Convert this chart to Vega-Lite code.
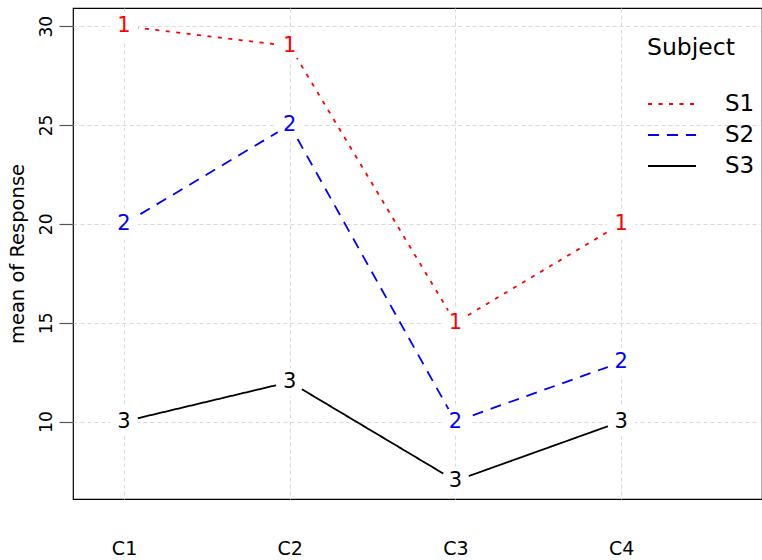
{
  "$schema": "https://vega.github.io/schema/vega-lite/v6.json",
  "autosize": "none",
  "width": 689,
  "height": 491,
  "padding": {"left": 73, "top": 8, "right": 0, "bottom": 61},
  "background": "white",
  "config": {
    "font": "DejaVu Sans",
    "view": {"stroke": "black", "strokeWidth": 1.2},
    "axis": {"gridColor": "#d9d9d9", "gridDash": [4, 3], "gridWidth": 1, "domain": false}
  },
  "data": {
    "values": [
      {"Condition": "C1", "Index": 1, "Subject": "S1", "Label": "1", "Response": 30},
      {"Condition": "C2", "Index": 2, "Subject": "S1", "Label": "1", "Response": 29},
      {"Condition": "C3", "Index": 3, "Subject": "S1", "Label": "1", "Response": 15},
      {"Condition": "C4", "Index": 4, "Subject": "S1", "Label": "1", "Response": 20},
      {"Condition": "C1", "Index": 1, "Subject": "S2", "Label": "2", "Response": 20},
      {"Condition": "C2", "Index": 2, "Subject": "S2", "Label": "2", "Response": 25},
      {"Condition": "C3", "Index": 3, "Subject": "S2", "Label": "2", "Response": 10},
      {"Condition": "C4", "Index": 4, "Subject": "S2", "Label": "2", "Response": 13},
      {"Condition": "C1", "Index": 1, "Subject": "S3", "Label": "3", "Response": 10},
      {"Condition": "C2", "Index": 2, "Subject": "S3", "Label": "3", "Response": 12},
      {"Condition": "C3", "Index": 3, "Subject": "S3", "Label": "3", "Response": 7},
      {"Condition": "C4", "Index": 4, "Subject": "S3", "Label": "3", "Response": 10}
    ]
  },
  "encoding": {
    "x": {
      "field": "Index", "type": "quantitative",
      "scale": {"domain": [0.692, 4.85], "nice": false, "zero": false},
      "axis": {"title": null, "values": [1, 2, 3, 4], "labelExpr": "'C' + datum.value", "labelAngle": 0, "ticks": false, "labelPadding": 40, "labelFontSize": 19, "labelColor": "black", "grid": true}
    },
    "y": {
      "field": "Response", "type": "quantitative",
      "scale": {"domain": [6.08, 30.92], "nice": false, "zero": false},
      "axis": {"title": "mean of Response", "titleFontSize": 19.5, "titleFontWeight": "normal", "titleColor": "black", "titlePadding": 10,
        "values": [10, 15, 20, 25, 30], "labelAngle": -90, "labelAlign": "center", "labelBaseline": "bottom", "labelFontSize": 17, "labelColor": "black", "labelPadding": 4,
        "tickSize": 14, "tickColor": "#555", "tickWidth": 1.2, "grid": true}
    }
  },
  "layer": [
    {
      "mark": {"type": "line", "strokeWidth": 1.8},
      "encoding": {
        "color": {"field": "Subject", "type": "nominal", "scale": {"domain": ["S1", "S2", "S3"], "range": ["#ff0000", "#0000ff", "#000000"]},
          "legend": {"orient": "none", "legendX": 574, "legendY": 28, "title": "Subject", "titleFontSize": 23.5, "titleFontWeight": "normal", "titleColor": "black", "titlePadding": 29,
            "labelFontSize": 23, "labelColor": "black", "labelOffset": 28, "symbolType": "stroke", "symbolSize": 2300, "symbolStrokeWidth": 1.8, "rowPadding": 0, "clipHeight": 31}},
        "strokeDash": {"field": "Subject", "type": "nominal", "scale": {"domain": ["S1", "S2", "S3"], "range": [[4, 6.5], [11, 8], [1, 0]]}}
      }
    },
    {
      "mark": {"type": "point", "shape": "circle", "filled": true, "color": "white", "size": 800, "opacity": 1}
    },
    {
      "mark": {"type": "text", "fontSize": 21, "baseline": "middle", "align": "center"},
      "encoding": {
        "text": {"field": "Label"},
        "color": {"field": "Subject", "type": "nominal", "legend": null}
      }
    }
  ]
}
